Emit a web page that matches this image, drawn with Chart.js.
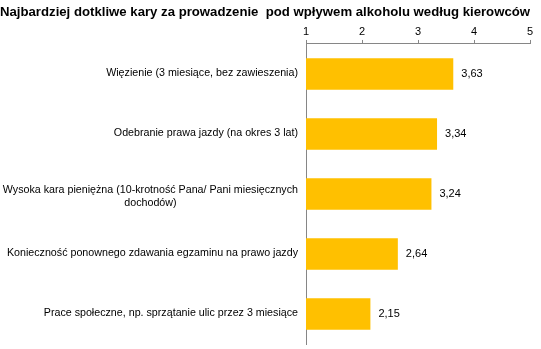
<!DOCTYPE html>
<html>
<head>
<meta charset="utf-8">
<script src="https://cdn.jsdelivr.net/npm/chart.js@4"></script>
<style>
  html, body { margin: 0; padding: 0; background: #fff; }
  #wrap { width: 541px; height: 349px; }
</style>
</head>
<body>
<div id="wrap"><canvas id="chart" width="541" height="349"></canvas></div>
<script>
const titleText = 'Najbardziej dotkliwe kary za prowadzenie  pod wpływem alkoholu według kierowców';
const categories = [
  ['Więzienie (3 miesiące, bez zawieszenia)'],
  ['Odebranie prawa jazdy (na okres 3 lat)'],
  ['Wysoka kara pieniężna (10-krotność Pana/ Pani miesięcznych', 'dochodów)'],
  ['Konieczność ponownego zdawania egzaminu na prawo jazdy'],
  ['Prace społeczne, np. sprzątanie ulic przez 3 miesiące']
];
const values = [3.63, 3.34, 3.24, 2.64, 2.15];
const tickValues = [1, 2, 3, 4, 5];

const font = 'Arial, "Liberation Sans", sans-serif';

// category labels: right-aligned block, lines centred inside it (like Excel)
const catLabels = {
  id: 'catLabels',
  afterDraw(chart) {
    const c = chart.ctx;
    const ys = chart.scales.y;
    const right = chart.chartArea.left - 8;
    c.save();
    c.font = '10.7px ' + font;
    c.fillStyle = '#000';
    c.textAlign = 'center';
    c.textBaseline = 'middle';
    categories.forEach((lines, i) => {
      const w = Math.max(...lines.map(l => c.measureText(l).width));
      const cx = right - w / 2;
      const yc = ys.getPixelForValue(i) + (lines.length > 1 ? 3 : -1);
      const lh = 13;
      lines.forEach((l, j) => {
        c.fillText(l, cx, yc + (j - (lines.length - 1) / 2) * lh);
      });
    });
    c.restore();
  }
};

// value labels at bar ends
const valueLabels = {
  id: 'valueLabels',
  afterDatasetsDraw(chart) {
    const c = chart.ctx;
    const meta = chart.getDatasetMeta(0);
    c.save();
    c.font = '11px ' + font;
    c.fillStyle = '#000';
    c.textAlign = 'left';
    c.textBaseline = 'middle';
    meta.data.forEach((bar, i) => {
      c.fillText(values[i].toFixed(2).replace('.', ','), bar.x + 8, bar.y);
    });
    c.restore();
  }
};

new Chart(document.getElementById('chart'), {
  type: 'bar',
  data: {
    labels: categories.map(l => l.join(' ')),
    datasets: [{
      data: values,
      backgroundColor: '#FFC000',
      borderWidth: 0,
      barPercentage: 0.523,
      categoryPercentage: 1
    }]
  },
  options: {
    indexAxis: 'y',
    responsive: false,
    animation: false,
    layout: { padding: { left: 0, right: 11, top: 0, bottom: 5 } },
    plugins: {
      legend: { display: false },
      tooltip: { enabled: false },
      title: {
        display: true,
        text: titleText,
        color: '#000',
        font: { family: font, size: 13.3, weight: 'bold' },
        padding: { top: 4, bottom: 0 }
      }
    },
    scales: {
      x: {
        position: 'top',
        min: 1,
        max: 5,
        afterBuildTicks(scale) { scale.ticks = tickValues.map(v => ({ value: v })); },
        afterFit(scale) { scale.height = 24; },
        grid: {
          drawOnChartArea: false,
          drawTicks: true,
          tickLength: 4,
          color: '#868686'
        },
        border: { display: true, color: '#868686', width: 1 },
        ticks: {
          color: '#000',
          padding: 1,
          maxRotation: 0,
          font: { family: font, size: 11 }
        }
      },
      y: {
        afterFit(scale) { scale.width = 306; },
        grid: { display: false },
        border: { display: true, color: '#868686', width: 1 },
        ticks: { display: false }
      }
    }
  },
  plugins: [catLabels, valueLabels]
});
</script>
</body>
</html>
